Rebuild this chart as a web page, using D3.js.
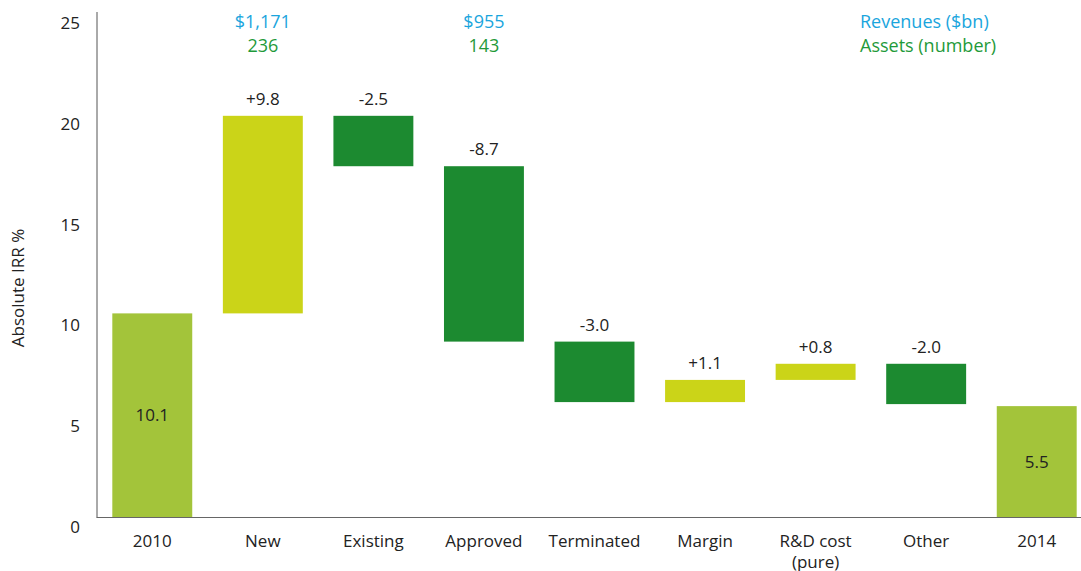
<!DOCTYPE html>
<html>
<head>
<meta charset="utf-8">
<script src="https://cdn.jsdelivr.net/npm/d3@7"></script>
<style>
  body { margin: 0; background: #fff; }
  svg { font-family: "Open Sans", "Noto Sans", sans-serif; }
</style>
</head>
<body>
<div id="chart"></div>
<script>
// waterfall data
const categories = ['2010', 'New', 'Existing', 'Approved', 'Terminated', 'Margin', 'R&D cost|(pure)', 'Other', '2014']
const deltas = [10.1, 9.8, -2.5, -8.7, -3.0, 1.1, 0.8, -2.0, 5.5]
const kinds = ['total', 'up', 'down', 'down', 'down', 'up', 'up', 'down', 'total']
const valueLabels = ['10.1', '+9.8', '-2.5', '-8.7', '-3.0', '+1.1', '+0.8', '-2.0', '5.5']
const yTicks = [0, 5, 10, 15, 20, 25]
// notes above some bars
const revenueNotes = [{cat: 'New', text: '$1,171'}, {cat: 'Approved', text: '$955'}]
const assetNotes = [{cat: 'New', text: '236'}, {cat: 'Approved', text: '143'}]

const width = 1081, height = 571
const colors = {total: '#a3c43a', up: '#cbd418', down: '#1c8a30'}
const fs = 17

const svg = d3.select('#chart').append('svg')
  .attr('width', width)
  .attr('height', height)

const x = d3.scaleBand()
  .domain(categories)
  .range([97, 1092])
  .paddingInner(0.277)
  .paddingOuter(0.1385)

const y = d3.scaleLinear()
  .domain([0, 25])
  .range([517, 13])

// build start/end of each bar
let running = 0
const bars = categories.map(function(c, i) {
  let y0, y1
  if (kinds[i] === 'total') { y0 = 0; y1 = deltas[i]; running = deltas[i] }
  else { y0 = running; y1 = running + deltas[i]; running = y1 }
  return {cat: c, kind: kinds[i], y0: y0, y1: y1, label: valueLabels[i]}
})

// axes lines
svg.append('line')
  .attr('x1', 97).attr('x2', 97)
  .attr('y1', 12).attr('y2', 517.5)
  .attr('stroke', '#555').attr('stroke-width', 1)
svg.append('line')
  .attr('x1', 96.5).attr('x2', 1081)
  .attr('y1', 517.5).attr('y2', 517.5)
  .attr('stroke', '#666').attr('stroke-width', 1.2)

// y tick labels (sit a little below the value, like the original)
svg.selectAll('.ytick').data(yTicks).enter()
  .append('text')
  .attr('class', 'ytick')
  .attr('x', 80)
  .attr('y', function(d) { return y(d) + 16 })
  .attr('text-anchor', 'end')
  .attr('font-size', fs)
  .attr('fill', '#222')
  .text(function(d) { return d })

svg.append('text')
  .attr('transform', 'translate(24,288) rotate(-90)')
  .attr('text-anchor', 'middle')
  .attr('font-size', fs)
  .attr('fill', '#222')
  .text('Absolute IRR %')

// bars
svg.selectAll('.bar').data(bars).enter()
  .append('rect')
  .attr('class', 'bar')
  .attr('x', function(d) { return x(d.cat) })
  .attr('width', x.bandwidth())
  .attr('y', function(d) { return y(Math.max(d.y0, d.y1)) })
  .attr('height', function(d) { return Math.abs(y(d.y0) - y(d.y1)) })
  .attr('fill', function(d) { return colors[d.kind] })

// value labels
svg.selectAll('.vlabel').data(bars).enter()
  .append('text')
  .attr('class', 'vlabel')
  .attr('x', function(d) { return x(d.cat) + x.bandwidth() / 2 })
  .attr('y', function(d) {
    if (d.kind === 'total') return (y(0) + y(d.y1)) / 2 + 6
    return y(Math.max(d.y0, d.y1)) - 11
  })
  .attr('text-anchor', 'middle')
  .attr('font-size', fs)
  .attr('fill', '#222')
  .text(function(d) { return d.label })

// category labels, "|" splits into two lines
const catText = svg.selectAll('.cat').data(categories).enter()
  .append('text')
  .attr('class', 'cat')
  .attr('x', function(d) { return x(d) + x.bandwidth() / 2 })
  .attr('y', 547)
  .attr('text-anchor', 'middle')
  .attr('font-size', fs)
  .attr('fill', '#222')
catText.each(function(d) {
  const parts = d.split('|')
  const t = d3.select(this)
  parts.forEach(function(p, i) {
    t.append('tspan')
      .attr('x', x(d) + x.bandwidth() / 2)
      .attr('dy', i === 0 ? 0 : 21)
      .text(p)
  })
})

// notes at the top
svg.selectAll('.rev').data(revenueNotes).enter()
  .append('text')
  .attr('x', function(d) { return x(d.cat) + x.bandwidth() / 2 })
  .attr('y', 28)
  .attr('text-anchor', 'middle')
  .attr('font-size', 18)
  .attr('fill', '#1aa5dd')
  .text(function(d) { return d.text })
svg.selectAll('.asset').data(assetNotes).enter()
  .append('text')
  .attr('x', function(d) { return x(d.cat) + x.bandwidth() / 2 })
  .attr('y', 52)
  .attr('text-anchor', 'middle')
  .attr('font-size', 18)
  .attr('fill', '#1f9a3a')
  .text(function(d) { return d.text })

// legend
svg.append('text')
  .attr('x', 860).attr('y', 28)
  .attr('font-size', 18)
  .attr('fill', '#1aa5dd')
  .text('Revenues ($bn)')
svg.append('text')
  .attr('x', 860).attr('y', 52)
  .attr('font-size', 18)
  .attr('fill', '#1f9a3a')
  .text('Assets (number)')
</script>
</body>
</html>
